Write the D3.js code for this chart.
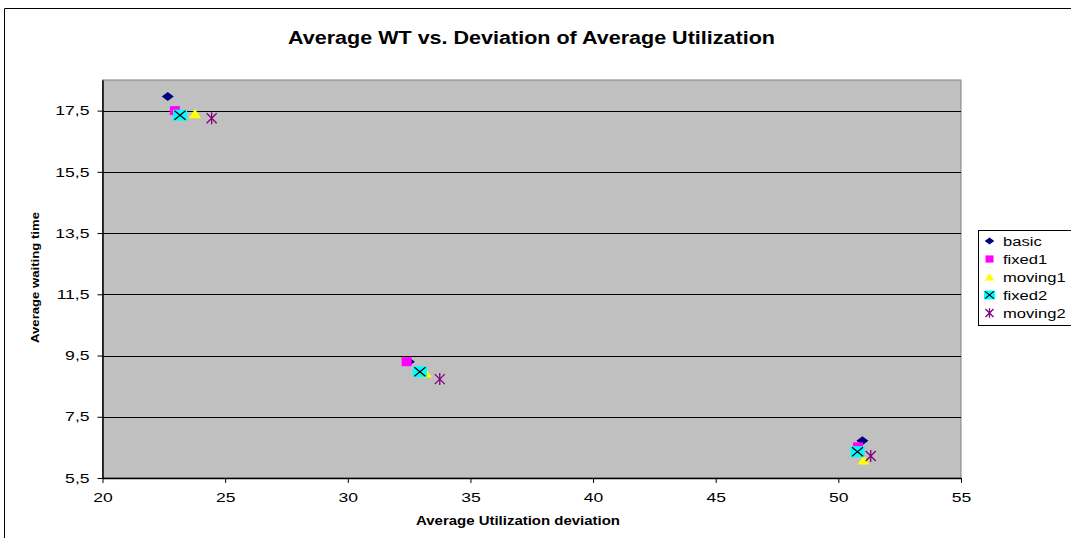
<!DOCTYPE html>
<html>
<head>
<meta charset="utf-8">
<script src="https://cdn.jsdelivr.net/npm/d3@7"></script>
<style>
  body { margin: 0; background: #fff; }
  svg { font-family: Arial, "Liberation Sans", sans-serif; }
</style>
</head>
<body>
<svg id="chart" width="1071" height="538"></svg>
<script>
// series names, in legend order
const seriesNames = ["basic", "fixed1", "moving1", "fixed2", "moving2"];

// [utilization deviation, waiting time] per series
const basic   = [[22.66, 17.96], [32.49, 9.30], [50.98, 6.72]];
const fixed1  = [[22.95, 17.50], [32.40, 9.30], [50.80, 6.52]];
const moving1 = [[23.77, 17.40], [33.18, 8.93], [51.03, 6.09]];
const fixed2  = [[23.16, 17.35], [32.94, 8.97], [50.78, 6.36]];
const moving2 = [[24.45, 17.25], [33.75, 8.73], [51.32, 6.22]];

const xTicks = [20, 25, 30, 35, 40, 45, 50, 55];
const yTicks = [5.5, 7.5, 9.5, 11.5, 13.5, 15.5, 17.5];
const yTickLabels = ["5,5", "7,5", "9,5", "11,5", "13,5", "15,5", "17,5"];

const allSeries = [basic, fixed1, moving1, fixed2, moving2];

const svg = d3.select("#chart");
const plot = { left: 102.5, right: 961, top: 80, bottom: 478 };

// the original text is drawn wide, so stretch glyphs horizontally
function widen(sel, k) {
    sel.each(function () {
        const len = this.getComputedTextLength();
        d3.select(this).attr("textLength", len * k).attr("lengthAdjust", "spacingAndGlyphs");
    });
}

// outer chart border
svg.append("path")
    .attr("d", "M4.5,538 V8.5 H1071")
    .attr("fill", "none")
    .attr("stroke", "#000")
    .attr("stroke-width", 1);

const x = d3.scaleLinear().domain([20, 55]).range([plot.left, plot.right]);
const y = d3.scaleLinear().domain([5.5, 18.5]).range([plot.bottom, plot.top]);

svg.append("rect")
    .attr("x", plot.left)
    .attr("y", plot.top)
    .attr("width", plot.right - plot.left)
    .attr("height", plot.bottom - plot.top)
    .attr("fill", "#c0c0c0")
    .attr("stroke", "#808080")
    .attr("stroke-width", 1);

// horizontal gridlines
svg.selectAll(".grid")
    .data(yTicks.slice(1))
    .join("line")
    .attr("class", "grid")
    .attr("x1", plot.left)
    .attr("x2", plot.right)
    .attr("y1", (d) => Math.round(y(d)) + 0.5)
    .attr("y2", (d) => Math.round(y(d)) + 0.5)
    .attr("stroke", "#000")
    .attr("stroke-width", 1);

const xAxis = svg.append("g")
    .attr("transform", `translate(0,${plot.bottom})`)
    .call(d3.axisBottom(x).tickValues(xTicks).tickSize(5).tickSizeOuter(0).tickPadding(10));

const yAxis = svg.append("g")
    .attr("transform", `translate(${plot.left},0)`)
    .call(d3.axisLeft(y).tickValues(yTicks).tickFormat((d, i) => yTickLabels[i])
        .tickSize(5).tickSizeOuter(0).tickPadding(8));

[xAxis, yAxis].forEach((g) => {
    g.select(".domain").attr("stroke", "#000").attr("stroke-width", 1.5);
    g.selectAll(".tick line").attr("stroke", "#000");
    g.selectAll("text").attr("fill", "#000").style("font-size", "13px")
        .style("font-family", "Arial, 'Liberation Sans', sans-serif")
        .call(widen, 1.35);
});

// marker drawing
function drawMarker(g, name, s = 1) {
    if (name === "basic") {
        g.append("path").attr("d", `M${-6 * s},0 L0,${-4.5 * s} L${6 * s},0 L0,${4.5 * s} Z`).attr("fill", "#000080");
    } else if (name === "fixed1") {
        g.append("rect").attr("x", -5 * s).attr("y", -4.5 * s).attr("width", 10 * s).attr("height", 9 * s).attr("fill", "#ff00ff");
    } else if (name === "moving1") {
        g.append("path").attr("d", `M0,${-5 * s} L${6 * s},${4.5 * s} L${-6 * s},${4.5 * s} Z`).attr("fill", "#ffff00");
    } else if (name === "fixed2") {
        g.append("rect").attr("x", -7 * s).attr("y", -5.5 * s).attr("width", 14 * s).attr("height", 11 * s).attr("fill", "#00ffff");
        g.append("path").attr("d", `M${-5.5 * s},${-4.5 * s} L${5.5 * s},${4.5 * s} M${-5.5 * s},${4.5 * s} L${5.5 * s},${-4.5 * s}`)
            .attr("stroke", "#000").attr("stroke-width", 1.2);
    } else {
        g.append("path").attr("d", `M${-5 * s},${-5 * s} L${5 * s},${5 * s} M${-5 * s},${5 * s} L${5 * s},${-5 * s} M0,${-6 * s} V${6 * s}`)
            .attr("stroke", "#800080").attr("stroke-width", 1.3);
    }
}

allSeries.forEach((data, i) => {
    svg.append("g")
        .selectAll("g")
        .data(data)
        .join("g")
        .attr("transform", (d) => `translate(${x(d[0])},${y(d[1])})`)
        .each(function () { drawMarker(d3.select(this), seriesNames[i]); });
});

// title & axis labels
svg.append("text")
    .attr("x", 531.5).attr("y", 44)
    .attr("text-anchor", "middle")
    .attr("textLength", 487).attr("lengthAdjust", "spacingAndGlyphs")
    .style("font-size", "17.5px").style("font-weight", "bold")
    .text("Average WT vs. Deviation of Average Utilization");

svg.append("text")
    .attr("x", 518).attr("y", 525)
    .attr("text-anchor", "middle")
    .attr("textLength", 204).attr("lengthAdjust", "spacingAndGlyphs")
    .style("font-size", "12.5px").style("font-weight", "bold")
    .text("Average Utilization deviation");

svg.append("text")
    .attr("transform", `translate(39,277.5) rotate(-90)`)
    .attr("text-anchor", "middle")
    .attr("textLength", 131).attr("lengthAdjust", "spacingAndGlyphs")
    .style("font-size", "11.5px").style("font-weight", "bold")
    .text("Average waiting time");

// legend
const legend = svg.append("g").attr("transform", "translate(978,230)");
legend.append("rect")
    .attr("x", 0.5).attr("y", 0.5)
    .attr("width", 100).attr("height", 95)
    .attr("fill", "#fff").attr("stroke", "#000");

const item = legend.selectAll(".item")
    .data(seriesNames)
    .join("g")
    .attr("class", "item")
    .attr("transform", (d, i) => `translate(0,${11 + i * 18})`);

item.append("g")
    .attr("transform", "translate(11.5,0)")
    .each(function (d) { drawMarker(d3.select(this), d, 0.8); });

item.append("text")
    .attr("x", 25).attr("y", 5)
    .style("font-size", "12px")
    .text((d) => d)
    .call(widen, 1.38);
</script>
</body>
</html>
